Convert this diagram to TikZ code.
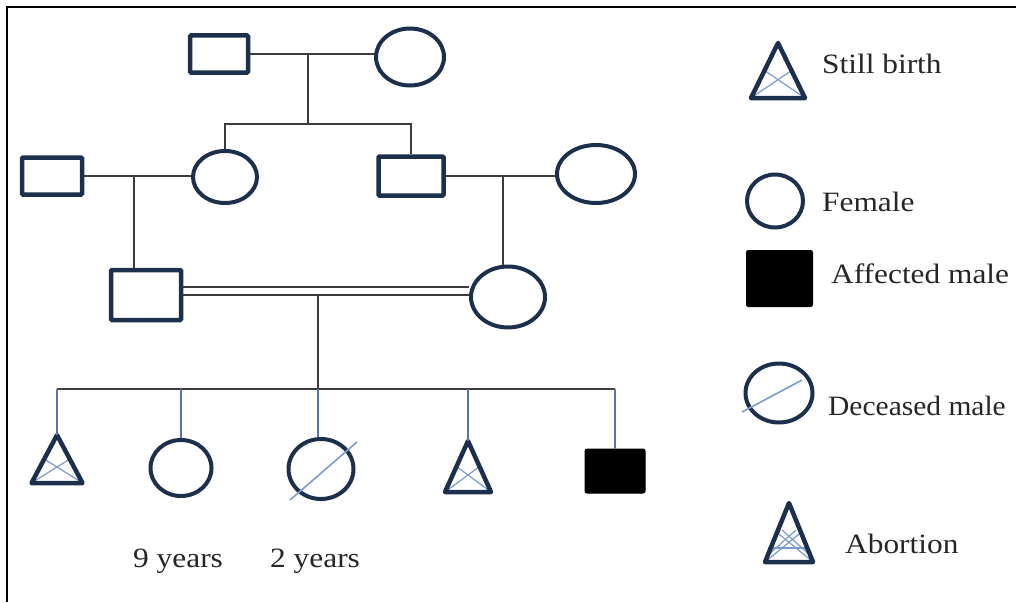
\documentclass[tikz,border=0pt]{standalone}
\usepackage{fontspec}
\setmainfont{Liberation Serif}[FakeStretch=1.12]
\usetikzlibrary{shapes.geometric}
\definecolor{navy}{HTML}{1C2F4C}
\definecolor{connc}{HTML}{3C3C3C}
\definecolor{dropc}{HTML}{5874A8}
\definecolor{xblue}{HTML}{7A9AD0}
\newcommand\pedtri[5]{% name, apex x, apex y, half base, height
  \coordinate (#1) at (#2,#3);
  \draw[triin] ({#2-#4},{#3+#5}) -- ({#2+#4/2},{#3+#5/2});
  \draw[triin] ({#2+#4},{#3+#5}) -- ({#2-#4/2},{#3+#5/2});
  \draw[tri] (#2,#3) -- ({#2+#4},{#3+#5}) -- ({#2-#4},{#3+#5}) -- cycle;
}
\begin{document}
\begin{tikzpicture}[x=1pt,y=-1pt,
  male/.style={draw=navy,line width=4.5pt,rectangle,inner sep=0,rounded corners=1pt},
  female/.style={draw=navy,line width=4pt,ellipse,inner sep=0},
  affected/.style={fill=black,draw=black,line width=1pt,rectangle,inner sep=0,rounded corners=2pt},
  link/.style={draw=connc,line width=1.6pt},
  dropline/.style={draw=dropc,line width=1.4pt},
  slash/.style={draw=xblue,line width=1.6pt},
  tri/.style={draw=navy,line width=4.5pt,line join=round},
  triin/.style={draw=xblue,line width=1.2pt},
  lbl/.style={inner sep=0,anchor=base west,font=\fontsize{28}{32}\selectfont,text=black!85}]
\useasboundingbox (0,0) rectangle (1016,602);
\clip (0,0) rectangle (1016,602);
% frame
\draw[line width=2pt,black] (7,602) -- (7,7) -- (1016,7);

% generation I
\node[male,minimum width=58,minimum height=37] (gf) at (219,54) {};
\node[female,minimum width=68,minimum height=57] (gm) at (410,57) {};
% generation II
\node[male,minimum width=60,minimum height=37] (m2a) at (52,176) {};
\node[female,minimum width=64,minimum height=52] (f2a) at (225,177) {};
\node[male,minimum width=65,minimum height=39] (m2b) at (411,176) {};
\node[female,minimum width=78,minimum height=58] (f2b) at (596,174) {};
% generation III
\node[male,minimum width=70,minimum height=50] (m3) at (146,295) {};
\node[female,minimum width=74,minimum height=61] (f3) at (508,297) {};
% children
\pedtri{c1}{57}{435}{25.5}{48}
\node[female,minimum width=61,minimum height=56] (c2) at (181,468) {};
\node[female,minimum width=65,minimum height=60] (c3) at (321,469) {};
\draw[slash] (c3.center) ++(-31,31) -- ++(67,-58);
\pedtri{c4}{468}{441}{23}{51}
\node[affected,minimum width=60,minimum height=44] (c5) at (615,471) {};

% connectors
\coordinate (j1) at (308,54);
\coordinate (s1) at (308,124);
\draw[link] (gf.east) -- (gf.east -| gm.west);
\draw[link] (j1) -- (s1);
\draw[link] (f2a.north) |- (s1) -| (m2b.north);

\coordinate (j2) at (134,177);
\draw[link] (m2a.east) -- (m2a.east -| f2a.west);
\draw[link] (j2) -- (j2 |- m3.north);

\coordinate (j3) at (503,176);
\draw[link] (m2b.east) -- (m2b.east -| f2b.west);
\draw[link] (j3) -- (j3 |- f3.north);

\draw[link] (m3.east) ++(0,-8) coordinate (a1) -- (a1 -| f3.west);
\draw[link] (m3.east) -- (m3.east -| f3.west);

\coordinate (j4) at (318,295);
\coordinate (s4) at (318,389);
\draw[link] (j4) -- (s4);
\draw[link] (c1 |- s4) -- (s4 -| c5.north);
\draw[dropline] (c1 |- s4) -- (c1);
\draw[dropline] (c2.north |- s4) -- (c2.north);
\draw[dropline] (s4) -- (s4 |- c3.north);
\draw[dropline] (c4 |- s4) -- (c4);
\draw[dropline] (c5.north |- s4) -- (c5.north);

\node[lbl] (age1) at (133,567) {9 years};
\node[lbl] (age2) at (270,567) {2 years};

% legend
\pedtri{lsb}{778}{43}{27}{55}
\node[lbl] (tsb) at (822,73) {Still birth};
\node[female,minimum width=56,minimum height=53] (lf) at (775,201) {};
\node[lbl] (tf) at (822,211) {Female};
\node[affected,minimum width=66,minimum height=56] (la) at (779.5,278.5) {};
\node[lbl] (ta) at (831,283) {Affected male};
\node[female,minimum width=67,minimum height=59] (ld) at (779,393) {};
\draw[slash] (ld.center) ++(-37,19) -- ++(60,-32);
\node[lbl] (td) at (828,415) {\scalebox{0.94}[1]{Deceased male}};
\draw[triin] (768,548) -- (806,548);
\draw[triin] (767,556) -- (796,530);
\draw[triin] (811,556) -- (782,530);
\pedtri{lab}{789}{503}{24}{59}
\node[lbl] (tab) at (845,553) {Abortion};
\end{tikzpicture}
\end{document}
